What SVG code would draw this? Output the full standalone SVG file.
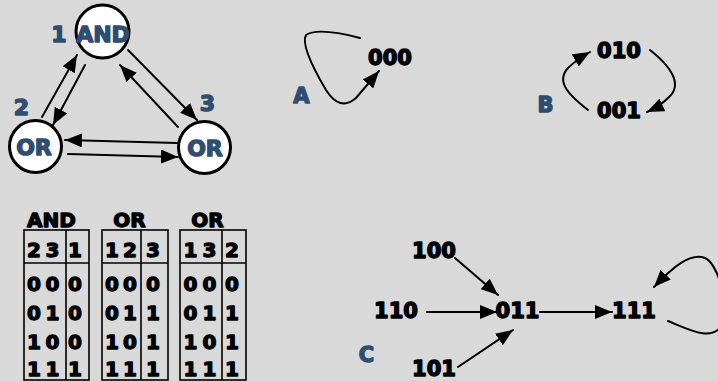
<svg xmlns="http://www.w3.org/2000/svg" width="718" height="381" viewBox="0 0 718 381">
  <defs>
    <marker id="head" markerUnits="userSpaceOnUse" markerWidth="17" markerHeight="14" refX="17" refY="7" orient="auto">
      <path d="M0,0 L17,7 L0,14 z" fill="#000"/>
    </marker>
    <style>
      .bg { fill: #d9d9d9; }
      .gate { fill: #fff; stroke: #000; stroke-width: 3; }
      text { font-family: "DejaVu Sans", "Liberation Sans", sans-serif; font-weight: bold; text-anchor: middle; stroke-linejoin: round; }
      .gtxt { font-size: 22px; fill: #2f4d71; stroke: #2f4d71; stroke-width: 1.4; }
      .lbl { font-size: 21px; fill: #2f4d71; stroke: #2f4d71; stroke-width: 1.4; }
      .state { font-size: 21px; fill: #000; stroke: #000; stroke-width: 1.4; }
      .tab { font-size: 20px; fill: #000; stroke: #000; stroke-width: 1.3; }
      .grid { fill: none; stroke: #000; stroke-width: 1.6; }
      .edge { fill: none; stroke: #000; stroke-width: 2; stroke-linecap: round; marker-end: url(#head); }
    </style>
  </defs>

  <rect class="bg" x="0" y="0" width="718" height="381"/>

  <!-- Boolean network: gates -->
  <g id="gate1">
    <circle class="gate" cx="102.5" cy="31.5" r="26.5"/>
    <text class="gtxt" x="103" y="42">AND</text>
    <text class="gtxt" x="59" y="42">1</text>
  </g>
  <g id="gate2">
    <circle class="gate" cx="35.5" cy="146.5" r="26"/>
    <text class="gtxt" x="34" y="154.5">OR</text>
    <text class="gtxt" x="21.5" y="115">2</text>
  </g>
  <g id="gate3">
    <circle class="gate" cx="204.5" cy="147.5" r="26"/>
    <text class="gtxt" x="205" y="155.5">OR</text>
    <text class="gtxt" x="207.5" y="111">3</text>
  </g>

  <!-- Boolean network: wiring -->
  <g id="wires">
    <line class="edge" x1="42" y1="117" x2="77" y2="55"/>
    <line class="edge" x1="85" y1="65" x2="53" y2="125"/>
    <line class="edge" x1="128" y1="50" x2="197" y2="120"/>
    <line class="edge" x1="178" y1="127" x2="120" y2="65"/>
    <line class="edge" x1="177" y1="143" x2="65" y2="140"/>
    <line class="edge" x1="68" y1="154" x2="178" y2="157"/>
  </g>

  <!-- Truth tables -->
  <g id="table-and">
    <text class="tab" x="51.5" y="227">AND</text>
    <rect class="grid" x="24" y="230" width="65" height="150"/>
    <line class="grid" x1="66" y1="230" x2="66" y2="380"/>
    <line class="grid" x1="24" y1="263" x2="89" y2="263"/>
    <text class="tab" x="34 52.5 75" y="257">231</text>
    <text class="tab" x="34 52.5 75" y="291">000</text>
    <text class="tab" x="34 52.5 75" y="320">010</text>
    <text class="tab" x="34 52.5 75" y="349">100</text>
    <text class="tab" x="34 52.5 75" y="376">111</text>
  </g>
  <g id="table-or1">
    <text class="tab" x="129.5" y="227">OR</text>
    <rect class="grid" x="102" y="230" width="66" height="150"/>
    <line class="grid" x1="141" y1="230" x2="141" y2="380"/>
    <line class="grid" x1="102" y1="263" x2="168" y2="263"/>
    <text class="tab" x="112 130 153" y="257">123</text>
    <text class="tab" x="112 130 153" y="291">000</text>
    <text class="tab" x="112 130 153" y="320">011</text>
    <text class="tab" x="112 130 153" y="349">101</text>
    <text class="tab" x="112 130 153" y="376">111</text>
  </g>
  <g id="table-or2">
    <text class="tab" x="207.5" y="227">OR</text>
    <rect class="grid" x="180" y="230" width="66" height="150"/>
    <line class="grid" x1="222" y1="230" x2="222" y2="380"/>
    <line class="grid" x1="180" y1="263" x2="246" y2="263"/>
    <text class="tab" x="190.5 209.5 232" y="257">132</text>
    <text class="tab" x="190.5 209.5 232" y="291">000</text>
    <text class="tab" x="190.5 209.5 232" y="320">011</text>
    <text class="tab" x="190.5 209.5 232" y="349">101</text>
    <text class="tab" x="190.5 209.5 232" y="376">111</text>
  </g>

  <!-- Attractor A: fixed point -->
  <g id="attractor-a">
    <text class="lbl" x="301.5" y="103">A</text>
    <text class="state" x="390" y="65">000</text>
  </g>
  <!-- Attractor B: 2-cycle -->
  <g id="attractor-b">
    <text class="lbl" x="545.5" y="112">B</text>
    <text class="state" x="619" y="58">010</text>
    <text class="state" x="619" y="118">001</text>
  </g>
  <!-- Attractor C: basin of 111 -->
  <g id="attractor-c">
    <text class="lbl" x="366.5" y="362">C</text>
    <text class="state" x="434" y="258">100</text>
    <text class="state" x="396" y="318">110</text>
    <text class="state" x="517.5" y="318">011</text>
    <text class="state" x="434" y="376">101</text>
    <text class="state" x="634" y="318">111</text>
  </g>

  <!-- State transitions -->
  <g id="transitions">
    <path class="edge" d="M360,38 Q318,27 306,35 Q300,46 326,90 Q340,112 356,98 L379,71"/>
    <path class="edge" d="M588,110 C570,96 555,82 568,68 Q576,60 590,52"/>
    <path class="edge" d="M650,50 C668,64 685,84 668,98 Q660,106 647,112"/>
    <line class="edge" x1="455" y1="258" x2="498" y2="295"/>
    <line class="edge" x1="427" y1="312" x2="497" y2="312"/>
    <line class="edge" x1="458" y1="367" x2="513" y2="330"/>
    <line class="edge" x1="540" y1="312" x2="612" y2="312"/>
    <path class="edge" d="M668,321 C690,330 712,342 722,325 C730,300 716,262 705,258 C690,252 672,268 654,287"/>
  </g>
</svg>
